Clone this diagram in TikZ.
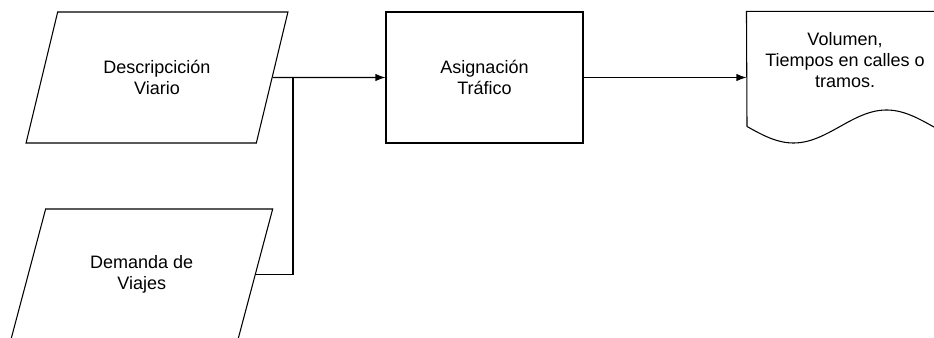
\documentclass[tikz,border=0pt]{standalone}
\usepackage{fontspec}
\setmainfont{Liberation Sans}
\usetikzlibrary{shapes.geometric,arrows.meta}

\tikzset{
  every node/.style={font=\fontsize{13.5}{16}\selectfont, align=center},
  datos/.style={draw, trapezium, trapezium left angle=63.9, trapezium right angle=116.1,
    trapezium stretches=true, minimum width=196.5pt, minimum height=98.25pt, inner sep=0pt},
  proceso/.style={draw, rectangle, minimum width=147.75pt, minimum height=98.25pt, inner sep=0pt},
  hoja/.style={rectangle, minimum width=150pt, minimum height=98.25pt, inner sep=0pt},
  flecha/.style={-{Latex[length=7.5pt,width=5.5pt]}},
}

\begin{document}
\begin{tikzpicture}[x=0.75pt, y=-0.75pt, line width=0.8pt]
     % marco
     \path[use as bounding box, clip] (0,0) rectangle (934,338);

     % entradas
     \node[datos] (desc) at (157,77.5) {Descripcición\\Viario};
     \node[datos] (dem) at (141.75,274.5) {Demanda de\\Viajes};

     % proceso
     \node[proceso] (asig) at (484.5,77.5) {Asignación\\Tráfico};

     % documento
     \node[hoja] (vol) at (847,77.5) {};
     \node (voltxt) at (845,60) {Volumen,\\Tiempos en calles o\\tramos.};
     \draw (vol.north east) -- (vol.north west) -- (747,126.5)
       plot[domain=747:950, samples=80] (\x, {126.5+16.5*sin((\x-747)*1.9355)});

     % conexiones
     \coordinate (union) at (293,77.5);
     \draw[flecha] (desc.east) -- (asig.west);
     \draw (dem.east) -| (union);
     \draw[flecha] (asig.east) -- (vol.west);
\end{tikzpicture}
\end{document}
